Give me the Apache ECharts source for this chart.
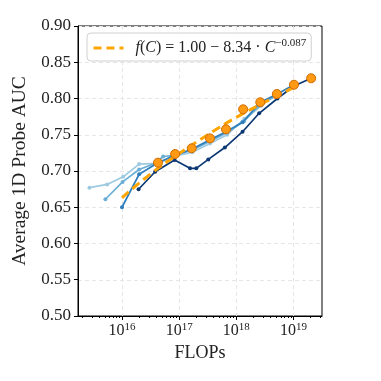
<!DOCTYPE html>
<html>
<head>
<meta charset="utf-8">
<script src="https://cdn.jsdelivr.net/npm/echarts@6/dist/echarts.min.js"></script>
<style>
  html, body { margin: 0; padding: 0; background: #fff; }
  #main { width: 381px; height: 381px; }
</style>
</head>
<body>
<div id="main"></div>
<script>
// x values are log10(FLOPs)
var s1X = [15.43, 15.74, 16.02, 16.30, 16.63, 16.93, 17.23, 17.54, 17.84, 18.14, 18.44];
var s1Y = [0.677, 0.6815, 0.692, 0.7095, 0.7105, 0.7205, 0.726, 0.738, 0.750, 0.772, 0.790];

var s2X = [15.71, 16.01, 16.30, 16.58, 16.72, 16.93, 17.23, 17.54, 17.84, 18.14, 18.44, 18.72];
var s2Y = [0.661, 0.685, 0.702, 0.7105, 0.720, 0.7215, 0.729, 0.741, 0.753, 0.769, 0.793, 0.804];

var s3X = [16.00, 16.30, 16.63, 16.93, 17.22, 17.54, 17.82, 18.11, 18.42, 18.71, 19.01];
var s3Y = [0.650, 0.6955, 0.7115, 0.722, 0.730, 0.743, 0.754, 0.7672, 0.7948, 0.806, 0.819];

var s4X = [16.29, 16.58, 16.92, 17.19, 17.30, 17.51, 17.80, 18.11, 18.40, 18.72, 19.01, 19.31];
var s4Y = [0.6748, 0.699, 0.7152, 0.7037, 0.7037, 0.716, 0.7324, 0.7542, 0.7796, 0.800, 0.8172, 0.8279];

var bestX = [16.63, 16.93, 17.22, 17.54, 17.82, 18.12, 18.42, 18.71, 19.01, 19.31];
var bestY = [0.7115, 0.7234, 0.7313, 0.745, 0.7575, 0.7851, 0.7948, 0.8062, 0.819, 0.8279];

var fitX = [16.0, 16.5, 17.0, 17.5, 18.0, 18.5, 19.0];
var fitY = [0.663, 0.696, 0.724, 0.750, 0.774, 0.795, 0.815];

var xTicks = [16, 17, 18, 19];
var yTicks = ['0.50', '0.55', '0.60', '0.65', '0.70', '0.75', '0.80', '0.85', '0.90'];

var seriesColors = ['#9ecae1', '#6baed6', '#2f7ebc', '#0b3874'];

function zip(xs, ys) {
  return xs.map(function (x, i) { return [x, ys[i]]; });
}

// minor ticks of a log axis (2..9 x 10^n)
var minorTicks = [];
for (var d = 15; d <= 19; d++) {
  for (var k = 2; k <= 9; k++) {
    var v = d + Math.log10(k);
    if (v > 15.23 && v < 19.5) minorTicks.push(v);
  }
}

var FONT = 'Liberation Serif';

var myChart = echarts.init(document.getElementById('main'));

var blue = [s1X, s2X, s3X, s4X].map(function (xs, i) {
  var ys = [s1Y, s2Y, s3Y, s4Y][i];
  return {
    name: 'model' + i,
    type: 'line',
    data: zip(xs, ys),
    symbol: 'circle',
    symbolSize: 4,
    lineStyle: { color: seriesColors[i], width: 1.7 },
    itemStyle: { color: seriesColors[i] },
    z: 2 + i
  };
});

option = {
  animation: false,
  grid: { left: 78, right: 59, top: 26, bottom: 65, show: true, borderColor: '#000', borderWidth: 1, backgroundColor: 'transparent' },
  legend: {
    data: [{
      name: 'fit',
      itemStyle: { opacity: 0 },
      lineStyle: { color: '#ffa500', width: 3, type: [8, 5] }
    }],
    left: 87,
    top: 33,
    padding: [5, 5, 5, 5],
    itemWidth: 30,
    itemHeight: 14,
    itemGap: 10,
    borderColor: '#d0d0d0',
    borderWidth: 1,
    borderRadius: 4,
    backgroundColor: 'rgba(255,255,255,0.85)',
    formatter: function () {
      return '{it|f}{n|(}{it|C}{n|) = 1.00 − 8.34 · }{it|C}{sup|−0.087}';
    },
    textStyle: {
      fontFamily: FONT,
      fontSize: 16,
      color: '#222',
      padding: [0, 0, 0, 7],
      rich: {
        it: { fontFamily: FONT, fontSize: 16, fontStyle: 'italic', color: '#222', lineHeight: 20 },
        n: { fontFamily: FONT, fontSize: 16, color: '#222', lineHeight: 20 },
        sup: { fontFamily: FONT, fontSize: 11, color: '#222', verticalAlign: 'top', lineHeight: 11 }
      }
    }
  },
  xAxis: [{
    type: 'value',
    min: 15.23,
    max: 19.5,
    name: 'FLOPs',
    nameLocation: 'middle',
    nameGap: 28,
    nameTextStyle: { fontFamily: FONT, fontSize: 18, color: '#222' },
    axisLine: { show: true, lineStyle: { color: '#000', width: 1 } },
    axisTick: { show: true, inside: false, length: 4, customValues: xTicks, lineStyle: { color: '#000' } },
    axisLabel: {
      customValues: xTicks,
      margin: 6,
      formatter: function (v) { return '{b|10}{s|' + Math.round(v) + '}'; },
      rich: {
        b: { fontFamily: FONT, fontSize: 16, color: '#222', lineHeight: 18 },
        s: { fontFamily: FONT, fontSize: 11, color: '#222', verticalAlign: 'top', lineHeight: 11 }
      }
    },
    splitLine: { show: true, lineStyle: { color: '#e6e6e6', type: [4, 3], width: 1 } }
  }, {
    type: 'value',
    min: 15.23,
    max: 19.5,
    position: 'bottom',
    axisLine: { show: false },
    axisTick: { show: true, length: 2, customValues: minorTicks, lineStyle: { color: '#000' } },
    axisLabel: { show: false },
    splitLine: { show: false }
  }],
  yAxis: {
    type: 'value',
    min: 0.5,
    max: 0.9,
    interval: 0.05,
    name: 'Average 1D Probe AUC',
    nameLocation: 'middle',
    nameGap: 38,
    nameTextStyle: { fontFamily: FONT, fontSize: 19.5, color: '#222' },
    axisLine: { show: true, lineStyle: { color: '#000', width: 1 } },
    axisTick: { show: true, inside: false, length: 4, lineStyle: { color: '#000' } },
    axisLabel: {
      margin: 7,
      fontFamily: FONT,
      fontSize: 17,
      color: '#222',
      formatter: function (v) { return yTicks[Math.round((v - 0.5) / 0.05)]; }
    },
    splitLine: { show: true, lineStyle: { color: '#e6e6e6', type: [4, 3], width: 1 } }
  },
  series: blue.concat([{
    name: 'fit',
    type: 'line',
    data: zip(fitX, fitY),
    symbol: 'none',
    smooth: true,
    lineStyle: { color: '#ffa500', width: 3, type: [9, 5] },
    itemStyle: { color: '#ffa500' },
    z: 8
  }, {
    name: 'best',
    type: 'line',
    data: zip(bestX, bestY),
    symbol: 'circle',
    symbolSize: 9,
    lineStyle: { width: 0, opacity: 0 },
    itemStyle: { color: '#ff9a12', borderColor: '#d06a00', borderWidth: 1 },
    z: 10
  }])
};

myChart.setOption(option);
</script>
</body>
</html>
